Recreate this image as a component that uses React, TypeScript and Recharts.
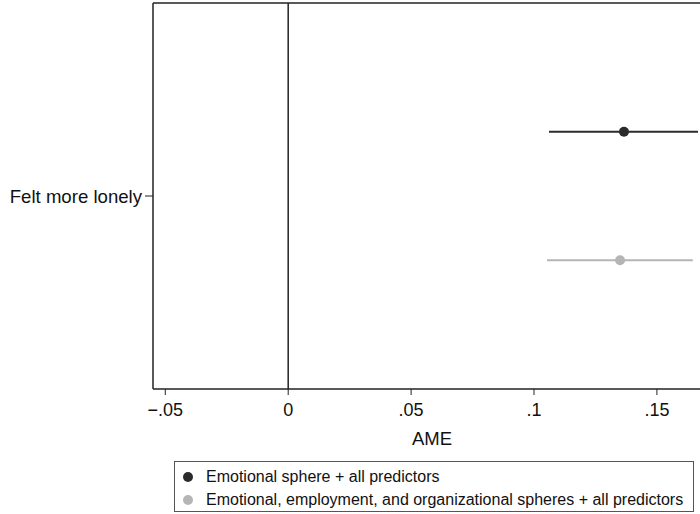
import React from "react";
import {
  ScatterChart,
  Scatter,
  XAxis,
  YAxis,
  ErrorBar,
  ReferenceLine,
} from "recharts";

// coefplot values (AME with 95% CI)
const categories = ["Felt more lonely"];
const models = [
  "Emotional sphere + all predictors",
  "Emotional, employment, and organizational spheres + all predictors",
];
const colors = ["#2b2b2b", "#b5b5b5"];
const estimates = [0.1366, 0.135];
const ciLow = [0.1061, 0.1053];
const ciHigh = [0.1667, 0.1646];
const xTicks = [-0.05, 0, 0.05, 0.1, 0.15];
const xTickLabels = ["\u2212.05", "0", ".05", ".1", ".15"];

const FONT = "'Liberation Sans', Arial, Helvetica, sans-serif";
const AXIS = "#222";

// model offsets around the category row (first model above)
const offsetFor = (i: number) => (i === 0 ? 1 / 6 : -1 / 6);

const series = models.map((name, i) => ({
  name,
  color: colors[i],
  data: [
    {
      ame: estimates[i],
      pos: 1 + offsetFor(i),
      err: [estimates[i] - ciLow[i], ciHigh[i] - estimates[i]],
    },
  ],
}));

const Dot = (color: string) => (props: any) => (
  <circle cx={props.cx} cy={props.cy} r={5} fill={color} />
);

export default function App() {
  return (
    <div
      style={{
        position: "absolute",
        left: 0,
        top: 0,
        width: 700,
        height: 514,
        overflow: "hidden",
        background: "#fff",
        fontFamily: FONT,
      }}
    >
      <ScatterChart
        width={716}
        height={514}
        margin={{ top: 3, right: 5, bottom: 0, left: 0 }}
      >
        <XAxis
          type="number"
          dataKey="ame"
          domain={[-0.055, 0.172]}
          ticks={xTicks}
          tickFormatter={(v: number) => xTickLabels[xTicks.indexOf(v)] ?? String(v)}
          allowDataOverflow
          height={125}
          tickSize={6}
          tickMargin={8}
          tick={{ fill: "#111", fontSize: 18, fontFamily: FONT }}
          axisLine={{ stroke: AXIS, strokeWidth: 1.5 }}
          tickLine={{ stroke: AXIS }}
          label={{
            value: "AME",
            position: "insideTop",
            offset: 43,
            fill: "#111",
            fontSize: 18.5,
            fontFamily: FONT,
          }}
        />
        <YAxis
          type="number"
          dataKey="pos"
          domain={[0.5, 1.5]}
          ticks={[1]}
          tickFormatter={() => categories[0]}
          width={153}
          tickSize={8}
          tickMargin={3}
          tick={{ fill: "#111", fontSize: 18.6, fontFamily: FONT }}
          axisLine={{ stroke: AXIS, strokeWidth: 1.5 }}
          tickLine={{ stroke: AXIS }}
        />
        <ReferenceLine y={1.5} stroke={AXIS} strokeWidth={1.5} />
        <ReferenceLine x={0} stroke={AXIS} strokeWidth={1.5} />
        {series.map((s) => (
          <Scatter
            key={s.name}
            name={s.name}
            data={s.data}
            fill={s.color}
            shape={Dot(s.color)}
            isAnimationActive={false}
          >
            <ErrorBar
              dataKey="err"
              direction="x"
              width={0}
              stroke={s.color}
              strokeWidth={2}
              isAnimationActive={false}
            />
          </Scatter>
        ))}
      </ScatterChart>
      <div
        style={{
          position: "absolute",
          left: 174,
          top: 461,
          width: 520,
          height: 51,
          border: "1px solid #555",
          boxSizing: "border-box",
          paddingTop: 3,
          fontSize: 16,
          color: "#111",
        }}
      >
        {series.map((s) => (
          <div
            key={s.name}
            style={{ display: "flex", alignItems: "center", height: 23 }}
          >
            <span
              style={{
                display: "inline-block",
                width: 10,
                height: 10,
                borderRadius: 5,
                background: s.color,
                marginLeft: 8,
                marginRight: 13,
              }}
            />
            <span>{s.name}</span>
          </div>
        ))}
      </div>
    </div>
  );
}
